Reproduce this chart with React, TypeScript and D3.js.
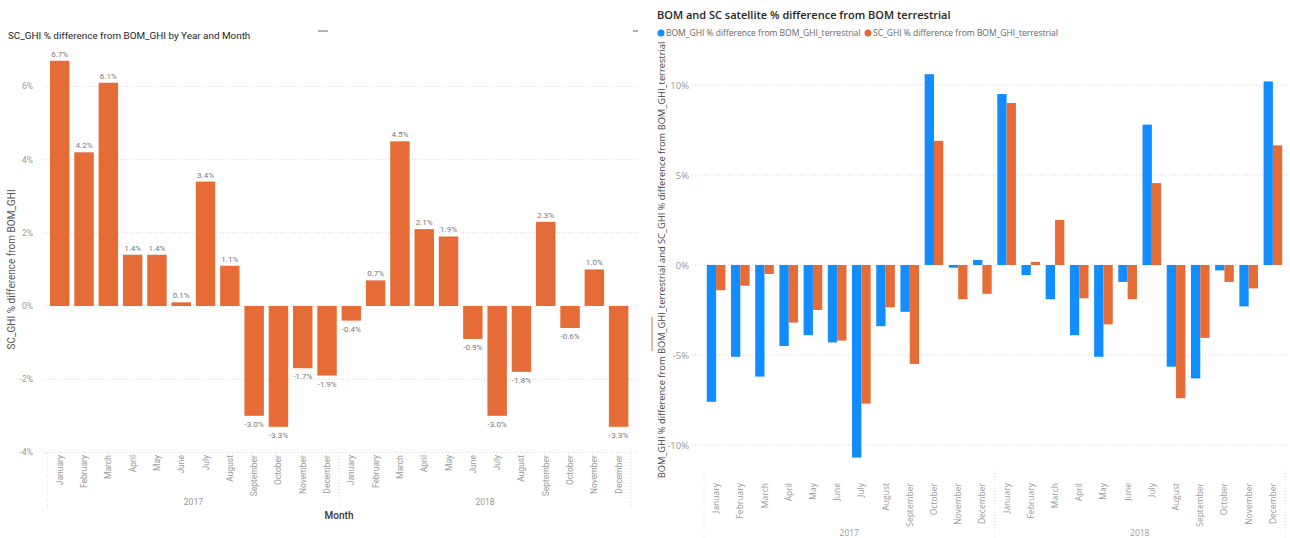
import * as d3 from 'd3';

const months = ['January', 'February', 'March', 'April', 'May', 'June', 'July', 'August', 'September', 'October', 'November', 'December'];
const years = ['2017', '2018'];

// left chart: SC_GHI % difference from BOM_GHI
const scDiff = [6.7, 4.2, 6.1, 1.4, 1.4, 0.1, 3.4, 1.1, -3.0, -3.3, -1.7, -1.9, -0.4, 0.7, 4.5, 2.1, 1.9, -0.9, -3.0, -1.8, 2.3, -0.6, 1.0, -3.3];
const leftTicks = [-4, -2, 0, 2, 4, 6];

// right chart: both satellites vs terrestrial
const bomTerr = [-7.6, -5.1, -6.2, -4.5, -3.9, -4.3, -10.7, -3.4, -2.6, 10.6, -0.15, 0.28, 9.5, -0.56, -1.9, -3.9, -5.1, -0.94, 7.8, -5.65, -6.3, -0.3, -2.3, 10.2];
const scTerr = [-1.4, -1.15, -0.5, -3.2, -2.5, -4.2, -7.7, -2.35, -5.5, 6.9, -1.9, -1.6, 9.0, 0.17, 2.5, -1.85, -3.3, -1.9, 4.55, -7.4, -4.05, -0.94, -1.3, 6.65];
const rightTicks = [-10, -5, 0, 5, 10];
const seriesNames = ['BOM_GHI % difference from BOM_GHI_terrestrial', 'SC_GHI % difference from BOM_GHI_terrestrial'];

const ORANGE = '#E66C37';
const BLUE = '#118DFF';

const keys = years.flatMap(y => months.map(m => `${y}-${m}`));

export default function App() {
  // ---- left
  const xL = d3.scaleBand().domain(keys).range([47.6, 630.8]).paddingInner(0.2).paddingOuter(0.1);
  const yL = d3.scaleLinear().domain([-4, 6]).range([452.4, 86.4]);
  const fmt = (v: number) => d3.format('.1f')(v).replace('\u2212', '-') + '%';
  const leftFont = 'Roboto, "DejaVu Sans", sans-serif';

  // ---- right
  const xR = d3.scaleBand().domain(keys).range([704, 1285]).paddingInner(0.23).paddingOuter(0.115);
  const xSub = d3.scaleBand().domain(['bom', 'sc']).range([0, xR.bandwidth()]);
  const yR = d3.scaleLinear().domain([-10, 10]).range([445, 85]);
  const rightFont = '"Open Sans", "Noto Sans", sans-serif';

  const yearMid = (sc: d3.ScaleBand<string>, yi: number) =>
    (sc(`${years[yi]}-January`)! + sc(`${years[yi]}-December`)! + sc.bandwidth()) / 2;
  const sepX = (sc: d3.ScaleBand<string>, i: number) => {
    const s = sc.step();
    return sc(keys[0])! - (s - sc.bandwidth()) / 2 + i * 12 * s;
  };

  return (
    <svg width={1290} height={538} style={{ position: 'absolute', left: 0, top: 0, background: '#fff' }}>
      {/* ================= LEFT CHART ================= */}
      <g fontFamily={leftFont}>
        <text x={8} y={39} fontSize={9.9} fill="#252423">SC_GHI % difference from BOM_GHI by Year and Month</text>
        <line x1={318} x2={328} y1={31} y2={31} stroke="#666" strokeWidth={1} />

        {leftTicks.map(t => (
          <g key={t}>
            <line x1={43} x2={640} y1={yL(t)} y2={yL(t)} stroke="#d6d6d6" strokeDasharray="1,2" />
            <text x={33} y={yL(t) + 3} fontSize={8.5} fill="#999" textAnchor="end">{`${t}%`}</text>
          </g>
        ))}
        <text transform={`translate(15,${(yL(6) + yL(-4)) / 2}) rotate(-90)`} fontSize={10} fill="#555" textAnchor="middle">
          SC_GHI % difference from BOM_GHI
        </text>

        {keys.map((k, i) => {
          const v = scDiff[i];
          const x = xL(k)!;
          return (
            <g key={k}>
              <rect x={x} width={xL.bandwidth()} y={Math.min(yL(v), yL(0))} height={Math.abs(yL(v) - yL(0))} fill={ORANGE} />
              <text x={x + xL.bandwidth() / 2} y={v >= 0 ? yL(v) - 4 : yL(v) + 11} fontSize={8} fill="#777" textAnchor="middle">
                {fmt(v)}
              </text>
              <text
                transform={`translate(${x + xL.bandwidth() / 2 + 3},455) rotate(-90)`}
                fontSize={8.5}
                fill="#999"
                textAnchor="end"
              >
                {k.split('-')[1]}
              </text>
            </g>
          );
        })}
        {[0, 1, 2].map(i => (
          <line key={i} x1={sepX(xL, i)} x2={sepX(xL, i)} y1={453} y2={510} stroke="#ddd" strokeDasharray="1,2" />
        ))}
        {years.map((y, i) => (
          <text key={y} x={yearMid(xL, i)} y={505} fontSize={8.5} fill="#999" textAnchor="middle">{y}</text>
        ))}
        <text x={339} y={519} fontSize={10} fill="#333" textAnchor="middle" fontWeight={500}>Month</text>
      </g>

      {/* ================= RIGHT CHART ================= */}
      <g fontFamily={rightFont}>
        <line x1={633} x2={638} y1={31} y2={31} stroke="#666" strokeWidth={1} />
        <text x={657} y={19} fontSize={11} fill="#252423" fontWeight={600}>
          BOM and SC satellite % difference from BOM terrestrial
        </text>
        <g fontSize={8.5} fill="#666">
          <circle cx={661} cy={33} r={3.5} fill={BLUE} />
          <text x={666} y={36}>{seriesNames[0]}</text>
          <circle cx={868} cy={33} r={3.5} fill={ORANGE} />
          <text x={873} y={36}>{seriesNames[1]}</text>
        </g>

        {rightTicks.map(t => (
          <g key={t}>
            <line x1={692} x2={1288} y1={yR(t)} y2={yR(t)} stroke="#d6d6d6" strokeDasharray="1,2" />
            <text x={689} y={yR(t) + 3.5} fontSize={9.5} fill="#999" textAnchor="end">{`${t}%`}</text>
          </g>
        ))}
        <text transform={`translate(665,${260}) rotate(-90)`} fontSize={9.3} fill="#444" textAnchor="middle">
          BOM_GHI % difference from BOM_GHI_terrestrial and SC_GHI % difference from BOM_GHI_terrestrial
        </text>
        <line x1={652} x2={652} y1={317} y2={351} stroke={ORANGE} strokeWidth={1} />

        {keys.map((k, i) => {
          const x0 = xR(k)!;
          const b = bomTerr[i];
          const s = scTerr[i];
          return (
            <g key={k}>
              <rect x={x0 + xSub('bom')!} width={xSub.bandwidth()} y={Math.min(yR(b), yR(0))} height={Math.abs(yR(b) - yR(0))} fill={BLUE} />
              <rect x={x0 + xSub('sc')!} width={xSub.bandwidth()} y={Math.min(yR(s), yR(0))} height={Math.abs(yR(s) - yR(0))} fill={ORANGE} />
              <text
                transform={`translate(${x0 + xR.bandwidth() / 2 + 3},483) rotate(-90)`}
                fontSize={8.5}
                fill="#999"
                textAnchor="end"
              >
                {k.split('-')[1]}
              </text>
            </g>
          );
        })}
        {[0, 1, 2].map(i => (
          <line key={i} x1={sepX(xR, i)} x2={sepX(xR, i)} y1={470} y2={538} stroke="#ddd" strokeDasharray="1,2" />
        ))}
        {years.map((y, i) => (
          <text key={y} x={yearMid(xR, i)} y={536} fontSize={8.5} fill="#999" textAnchor="middle">{y}</text>
        ))}
      </g>
    </svg>
  );
}
